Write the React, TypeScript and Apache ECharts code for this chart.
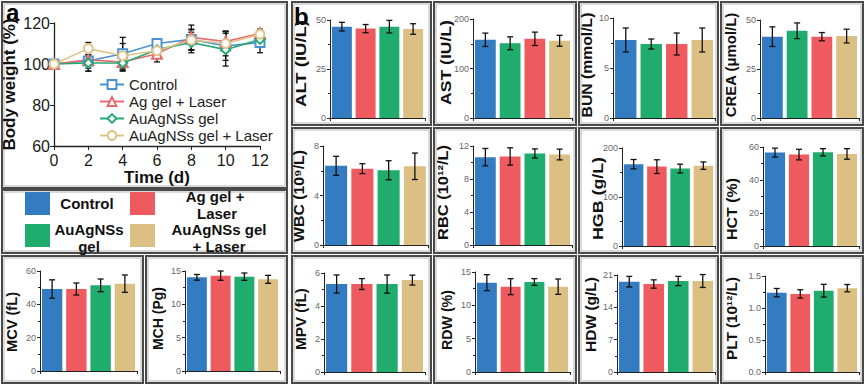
import React, { useEffect, useRef } from 'react';
import * as echarts from 'echarts';

// ---------- data ----------
const groups = ['Control', 'Ag gel + Laser', 'AuAgNSs gel', 'AuAgNSs gel + Laser'];
const barColors = ['#347cc1', '#ef5a5f', '#1fac6c', '#dcc083'];
const lineColors = ['#4b92d2', '#e96a6c', '#27a874', '#e0c388'];
const lineSymbols = ['emptyRect', 'emptyTriangle', 'emptyDiamond', 'emptyCircle'];

const days = [0, 2, 4, 6, 8, 10, 12];
const weightControl = [100, 101.5, 105, 110, 112, 108.8, 110.5];
const weightAgLaser = [100, 102, 101, 105, 113, 111, 115];
const weightAuAg = [100, 100.5, 100.5, 107, 110.5, 107, 112];
const weightAuAgLaser = [100, 107.5, 104, 106.5, 111.7, 110, 114.5];
const errControl = [0, 5, 8, 1.2, 5, 7, 5];
const errAgLaser = [0, 4, 4, 4, 6, 5, 2];
const errAuAg = [0, 4, 4, 3, 5, 8, 3];
const errAuAgLaser = [0, 3, 6, 3, 5, 6, 2];

// group order of the bars inside each panel (index into groups)
const orderStd = [0, 1, 2, 3];
const orderSwap = [0, 2, 1, 3];

const altMean = [46.6, 45.6, 46.6, 45.4];
const altSd = [2.2, 2.1, 3.2, 2.7];
const astMean = [158, 151, 160, 156];
const astSd = [13.5, 13, 13.5, 11];
const bunMean = [7.8, 7.4, 7.4, 7.8];
const bunSd = [1.2, 0.5, 1.1, 1.2];
const creaMean = [41.5, 44.5, 41.5, 41.8];
const creaSd = [5, 4, 2.1, 3.5];
const wbcMean = [6.4, 6.17, 6.04, 6.36];
const wbcSd = [0.77, 0.4, 0.77, 1.07];
const rbcMean = [10.65, 10.73, 11.1, 10.97];
const rbcSd = [1.05, 1.05, 0.55, 0.65];
const hgbMean = [167, 162, 158, 164];
const hgbSd = [9.5, 14, 9, 7.5];
const hctMean = [56.6, 55.4, 56.8, 55.8];
const hctSd = [2.7, 3.2, 2.2, 3.2];
const mcvMean = [49.2, 49.2, 51.4, 52.4];
const mcvSd = [5.5, 3.6, 3.8, 5.2];
const mchMean = [14.05, 14.3, 14.15, 13.75];
const mchSd = [0.43, 0.7, 0.55, 0.6];
const mpvMean = [5.33, 5.33, 5.33, 5.57];
const mpvSd = [0.55, 0.33, 0.55, 0.3];
const rdwMean = [13.4, 12.8, 13.5, 12.8];
const rdwSd = [1.2, 1.2, 0.5, 1.15];
const hdwMean = [19.55, 19.05, 19.7, 19.7];
const hdwSd = [1.15, 0.9, 1.0, 1.4];
const pltMean = [1.24, 1.22, 1.27, 1.31];
const pltSd = [0.065, 0.065, 0.1, 0.057];

// ---------- layout ----------
type Panel = {
  title: string; mean: number[]; sd: number[]; order: number[];
  max: number; interval: number; dec: number;
  box: number[]; grid: number[]; tc: number[]; tlen: number;
};
const panels: Panel[] = [
  { title: 'ALT (IU/L)', mean: altMean, sd: altSd, order: orderStd, max: 50, interval: 25, dec: 0, box: [292, 2, 139, 123], grid: [330, 20, 95, 98], tc: [301, 63.5], tlen: 87 },
  { title: 'AST (IU/L)', mean: astMean, sd: astSd, order: orderSwap, max: 200, interval: 100, dec: 0, box: [434, 2, 142, 123], grid: [473, 19, 99, 99], tc: [446, 62.5], tlen: 85 },
  { title: 'BUN (mmol/L)', mean: bunMean, sd: bunSd, order: orderSwap, max: 10, interval: 5, dec: 0, box: [579, 2, 139, 123], grid: [613, 18, 102, 100], tc: [587, 65], tlen: 105 },
  { title: 'CREA (μmol/L)', mean: creaMean, sd: creaSd, order: orderSwap, max: 50, interval: 25, dec: 0, box: [721, 2, 142, 123], grid: [760, 20, 99, 98], tc: [731, 65], tlen: 105 },
  { title: 'WBC (10⁹/L)', mean: wbcMean, sd: wbcSd, order: orderStd, max: 8, interval: 4, dec: 0, box: [292, 128, 139, 125], grid: [323, 146, 105, 99], tc: [299, 196], tlen: 92 },
  { title: 'RBC (10¹²/L)', mean: rbcMean, sd: rbcSd, order: orderStd, max: 12, interval: 4, dec: 0, box: [434, 128, 142, 125], grid: [473, 146, 99, 99], tc: [442.5, 192.5], tlen: 95 },
  { title: 'HGB (g/L)', mean: hgbMean, sd: hgbSd, order: orderStd, max: 200, interval: 100, dec: 0, box: [579, 128, 139, 125], grid: [622, 148, 93, 98], tc: [598, 198.5], tlen: 83 },
  { title: 'HCT (%)', mean: hctMean, sd: hctSd, order: orderStd, max: 60, interval: 20, dec: 0, box: [721, 128, 142, 125], grid: [763, 147, 96, 99], tc: [732, 209], tlen: 62 },
  { title: 'MCV (fL)', mean: mcvMean, sd: mcvSd, order: orderStd, max: 60, interval: 20, dec: 0, box: [2, 256, 141, 127], grid: [40, 271, 97, 100], tc: [12.5, 322], tlen: 60 },
  { title: 'MCH (Pg)', mean: mchMean, sd: mchSd, order: orderStd, max: 15, interval: 5, dec: 0, box: [146, 256, 141, 127], grid: [185, 271, 95, 100], tc: [157.5, 318.5], tlen: 63 },
  { title: 'MPV (fL)', mean: mpvMean, sd: mpvSd, order: orderStd, max: 6, interval: 2, dec: 0, box: [292, 256, 139, 127], grid: [324, 273, 101, 99], tc: [301, 319], tlen: 62 },
  { title: 'RDW (%)', mean: rdwMean, sd: rdwSd, order: orderStd, max: 15, interval: 5, dec: 0, box: [434, 256, 142, 127], grid: [475, 272, 95, 100], tc: [447.5, 320], tlen: 60 },
  { title: 'HDW (g/L)', mean: hdwMean, sd: hdwSd, order: orderStd, max: 21, interval: 7, dec: 0, box: [579, 256, 139, 127], grid: [617, 275, 98, 97], tc: [591, 314.5], tlen: 75 },
  { title: 'PLT (10¹²/L)', mean: pltMean, sd: pltSd, order: orderStd, max: 1.5, interval: 0.5, dec: 1, box: [721, 256, 142, 127], grid: [765, 276, 94, 96], tc: [732, 318.5], tlen: 83 },
];

const FONT = '"Liberation Sans", Arial, Helvetica, sans-serif';
const TITLE_FONT = `bold 14px ${FONT}`;

function measureText(text: string, font: string) {
  const ctx = document.createElement('canvas').getContext('2d');
  if (!ctx) return text.length * 7;
  ctx.font = font;
  return ctx.measureText(text).width;
}

function errRenderer(capHalf: number) {
  return (params: any, api: any) => {
    const x = api.value(0);
    const m = api.value(1);
    const e = api.value(2);
    if (!e) return null;
    const top = api.coord([x, m + e]);
    const bot = api.coord([x, m - e]);
    const style = { stroke: '#111', lineWidth: 1.3 };
    return {
      type: 'group',
      children: [
        { type: 'line', shape: { x1: top[0], y1: top[1], x2: bot[0], y2: bot[1] }, style },
        { type: 'line', shape: { x1: top[0] - capHalf, y1: top[1], x2: top[0] + capHalf, y2: top[1] }, style },
        { type: 'line', shape: { x1: bot[0] - capHalf, y1: bot[1], x2: bot[0] + capHalf, y2: bot[1] }, style },
      ],
    };
  };
}

function boxRect(b: number[]) {
  return [
    { type: 'rect', shape: { x: b[0], y: b[1], width: b[2], height: b[3] }, style: { fill: 'none', stroke: '#4a4a4a', lineWidth: 2 }, silent: true },
    { type: 'rect', shape: { x: b[0] + 2, y: b[1] + 2, width: b[2] - 4, height: b[3] - 4 }, style: { fill: 'none', stroke: '#b5b5b5', lineWidth: 1 }, silent: true },
  ];
}

function buildOption() {
  const grid: any[] = [];
  const xAxis: any[] = [];
  const yAxis: any[] = [];
  const series: any[] = [];
  const graphic: any[] = [];

  // ---- panel a: body weight ----
  grid.push({ left: 54, top: 23, width: 206, height: 123 });
  xAxis.push({
    type: 'value', gridIndex: 0, min: 0, max: 12, interval: 2,
    name: 'Time (d)', nameLocation: 'middle', nameGap: 23,
    nameTextStyle: { fontFamily: FONT, fontWeight: 'bold', fontSize: 17, color: '#111' },
    axisLine: { lineStyle: { color: '#222', width: 1.3 } },
    axisTick: { show: true, length: 4, lineStyle: { color: '#222' } },
    axisLabel: { fontFamily: FONT, fontSize: 16, color: '#1a1a1a', margin: 6 },
    splitLine: { show: false },
  });
  yAxis.push({
    type: 'value', gridIndex: 0, min: 60, max: 120, interval: 20,
    name: 'Body weight (%)', nameLocation: 'middle', nameGap: 36,
    nameTextStyle: { fontFamily: FONT, fontWeight: 'bold', fontSize: 17, color: '#111' },
    axisLine: { show: true, lineStyle: { color: '#222', width: 1.3 } },
    axisTick: { show: true, length: 4, lineStyle: { color: '#222' } },
    axisLabel: { fontFamily: FONT, fontSize: 16, color: '#1a1a1a', margin: 4 },
    splitLine: { show: false },
  });
  const weights = [weightControl, weightAgLaser, weightAuAg, weightAuAgLaser];
  const errs = [errControl, errAgLaser, errAuAg, errAuAgLaser];
  weights.forEach((w, g) => {
    series.push({
      type: 'custom', xAxisIndex: 0, yAxisIndex: 0, z: 1,
      renderItem: errRenderer(3),
      data: days.map((d, i) => [d, w[i], errs[g][i]]),
      silent: true,
    });
  });
  weights.forEach((w, g) => {
    series.push({
      type: 'line', name: groups[g], xAxisIndex: 0, yAxisIndex: 0, z: 3,
      data: days.map((d, i) => [d, w[i]]),
      symbol: lineSymbols[g], symbolSize: g === 1 ? 10 : 9,
      lineStyle: { color: lineColors[g], width: 1.6 },
      itemStyle: { color: lineColors[g], borderWidth: 1.5 },
    });
  });

  // ---- panel b: bar panels ----
  panels.forEach((p, k) => {
    const gi = k + 1;
    grid.push({ left: p.grid[0], top: p.grid[1], width: p.grid[2], height: p.grid[3] });
    xAxis.push({
      type: 'category', gridIndex: gi, data: p.order.map((o) => groups[o]),
      axisLine: { lineStyle: { color: '#222', width: 1 } },
      axisTick: { show: true, length: 3, alignWithLabel: false, lineStyle: { color: '#222' } },
      axisLabel: { show: false },
    });
    yAxis.push({
      type: 'value', gridIndex: gi, min: 0, max: p.max, interval: p.interval,
      axisLine: { show: true, lineStyle: { color: '#222', width: 1 } },
      axisTick: { show: true, length: 3, lineStyle: { color: '#222' } },
      minorTick: { show: true, splitNumber: 2, length: 2, lineStyle: { color: '#222' } },
      axisLabel: {
        fontFamily: FONT, fontSize: 9, color: '#666', margin: 4,
        formatter: (v: number) => v.toFixed(p.dec),
      },
      splitLine: { show: false },
    });
    series.push({
      type: 'bar', xAxisIndex: gi, yAxisIndex: gi, barCategoryGap: '16%',
      data: p.mean.map((v, i) => ({ value: v, itemStyle: { color: barColors[p.order[i]] } })),
      silent: true,
    });
    series.push({
      type: 'custom', xAxisIndex: gi, yAxisIndex: gi, z: 5,
      renderItem: errRenderer(3),
      data: p.mean.map((v, i) => [i, v, p.sd[i]]),
      silent: true,
    });
    graphic.push(...boxRect(p.box));
    const w = measureText(p.title, TITLE_FONT);
    graphic.push({
      type: 'text', x: p.tc[0], y: p.tc[1], rotation: Math.PI / 2, scaleX: p.tlen / w, z: 20,
      style: { text: p.title, font: TITLE_FONT, fill: '#111', align: 'center', verticalAlign: 'middle' },
    });
  });

  // panel frames for a and its color key
  graphic.push(...boxRect([2, 2, 285, 186]));
  graphic.push(...boxRect([2, 190, 285, 63]));
  graphic.push({ type: 'text', x: 6, y: 0, style: { text: 'a', font: `bold 24px ${FONT}`, fill: '#000' } });
  graphic.push({ type: 'text', x: 294, y: 4, style: { text: 'b', font: `bold 24px ${FONT}`, fill: '#000' } });

  // color key
  const keySquares = [
    { g: 0, x: 25, y: 192 }, { g: 1, x: 130, y: 192 },
    { g: 2, x: 25, y: 224 }, { g: 3, x: 130, y: 224 },
  ];
  keySquares.forEach((s) => {
    graphic.push({ type: 'rect', shape: { x: s.x, y: s.y, width: 25, height: 23 }, style: { fill: barColors[s.g] } });
  });
  const keyTexts = [
    { t: 'Control', x: 87, y: 203 },
    { t: 'Ag gel +', x: 215, y: 196 },
    { t: 'Laser', x: 217, y: 213 },
    { t: 'AuAgNSs', x: 89, y: 229 },
    { t: 'gel', x: 89, y: 246 },
    { t: 'AuAgNSs gel', x: 219, y: 229 },
    { t: '+ Laser', x: 219, y: 246 },
  ];
  keyTexts.forEach((k) => {
    graphic.push({
      type: 'text', x: k.x, y: k.y,
      style: { text: k.t, font: `bold 15px ${FONT}`, fill: '#111', align: 'center', verticalAlign: 'middle' },
    });
  });

  return {
    animation: false,
    backgroundColor: '#fff',
    textStyle: { fontFamily: FONT },
    legend: {
      data: groups, orient: 'vertical', left: 99, top: 77, padding: 0,
      itemWidth: 24, itemHeight: 11, itemGap: 2,
      textStyle: { fontFamily: FONT, fontSize: 15, lineHeight: 14, color: '#222' },
    },
    grid, xAxis, yAxis, series, graphic,
  };
}

export default function App() {
  const ref = useRef<HTMLDivElement>(null);
  useEffect(() => {
    if (!ref.current) return;
    const chart = echarts.init(ref.current, null, { renderer: 'svg' });
    chart.setOption(buildOption() as any);
    return () => chart.dispose();
  }, []);
  return <div ref={ref} style={{ position: 'fixed', left: 0, top: 0, width: 865, height: 385, background: '#fff' }} />;
}
